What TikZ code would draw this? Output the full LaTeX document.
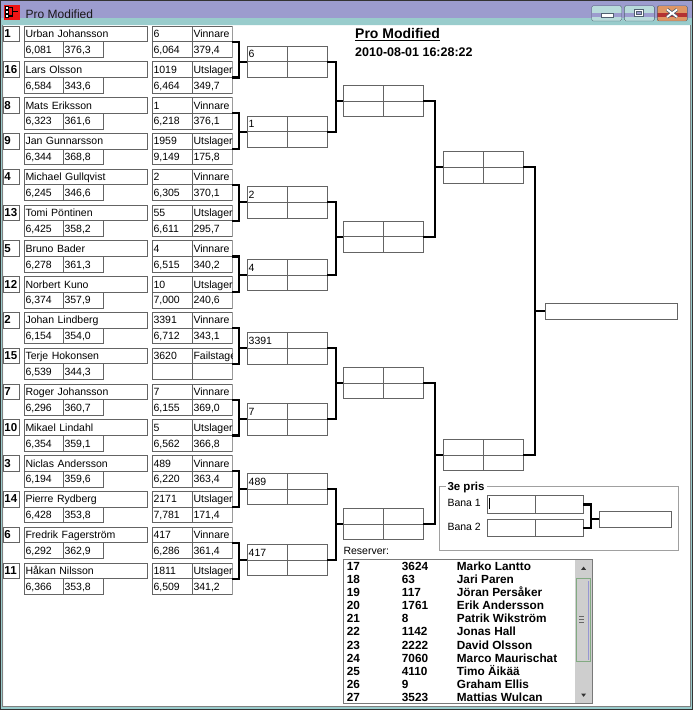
\documentclass[tikz,border=0pt]{standalone}
\usepackage{fontspec}
\setmainfont{Liberation Sans}
\usetikzlibrary{positioning}

\definecolor{boxgray}{RGB}{100,100,100}
\definecolor{titlepurple}{RGB}{156,156,206}
\definecolor{titleteal}{RGB}{153,204,204}
\definecolor{framegray}{RGB}{160,160,160}
\definecolor{sbgray}{RGB}{206,206,206}
\definecolor{thumbgreen}{RGB}{130,170,130}
\definecolor{thumbblue}{RGB}{150,150,210}
\definecolor{btnedge}{RGB}{80,96,112}
\definecolor{closeorange}{RGB}{222,150,100}
\definecolor{closered}{RGB}{180,50,50}
\definecolor{iconred}{RGB}{240,20,20}

\begin{document}
\begin{tikzpicture}[x=1pt, y=-1pt,
	cell/.style = {draw=boxgray, line width=1pt, outer sep=0pt, anchor=north west, inner xsep=1.5pt, inner ysep=0pt, minimum height=15.7pt, text width=#1, align=left, text height=8pt, text depth=0.7pt, font=\fontsize{10.5}{12}\selectfont},
	quad/.style = {draw=boxgray, line width=1pt, outer sep=0pt, inner sep=0pt, anchor=west, minimum width=80pt, minimum height=31.4pt, path picture={\draw[boxgray, line width=1pt] (path picture bounding box.north) -- (path picture bounding box.south) (path picture bounding box.west) -- (path picture bounding box.east);}},
	qtext/.style = {anchor=north west, inner xsep=1.5pt, inner ysep=0pt, minimum height=15.7pt, text height=8pt, text depth=0.7pt, font=\fontsize{10.5}{12}\selectfont},
	bracket/.style = {draw=black, line width=2.2pt},
	lbl/.style = {anchor=base west, inner sep=0pt, font=\fontsize{10.5}{12}\selectfont},
	reserve/.style = {anchor=base west, inner sep=0pt, font=\fontsize{11.8}{13}\selectfont\bfseries}]

	\useasboundingbox (0,0) rectangle (693,710);

	% window
	\fill[white] (0,0) rectangle (693,710);
	\fill[titleteal] (0,0) rectangle (3,710) (690,0) rectangle (693,710) (0,706) rectangle (693,710) (0,0) rectangle (693,25);
	\fill[titlepurple] (0,0) rectangle (693,18);
	\draw[black!80, line width=1pt] (0.5,709.5) -- (0.5,0.5) -- (692.5,0.5) -- (692.5,709.5) -- cycle;
	\draw[gray, line width=0.8pt] (2.6,25) -- (2.6,706.4) -- (690.4,706.4) -- (690.4,25);
	\fill[iconred] (4,5) rectangle (20,19.5);
	\foreach \iy in {6.5,10.5,14.5}
		\draw[black, fill=white, line width=0.8pt] (5.5,\iy) rectangle ++(3,2.6);
	\draw[black, line width=1.3pt] (9,7.5) -- (12.5,7.5) -- (12.5,16) -- (9,16) (12.5,11.8) -- (17.5,11.8);
	\node[anchor=base west, inner sep=0pt, font=\fontsize{12}{14}\selectfont, text=black!90] (wintitle) at (25.5,18) {Pro Modified};
	\foreach \bx in {591.7,624.3} {
		\fill[titleteal!70!white] (\bx,5.7) rectangle ++(30,15.3);
		\fill[titlepurple] (\bx,12.6) rectangle ++(30,4);
		\draw[btnedge, rounded corners=1.5pt] (\bx,5.7) rectangle ++(30,15.3);
	}
	\fill[closeorange] (657.3,5.7) rectangle ++(30,15.3);
	\fill[closered] (657.3,12.6) rectangle ++(30,4.4);
	\draw[btnedge, rounded corners=1.5pt] (657.3,5.7) rectangle ++(30,15.3);
	\draw[btnedge, fill=white, line width=0.9pt] (601,13.5) rectangle (613,17);
	\draw[btnedge, fill=white, line width=0.9pt] (634.5,9) rectangle (643.5,16.5);
	\draw[btnedge, fill=titlepurple, line width=0.8pt] (636.5,11.3) rectangle (641.5,14.2);
	\draw[btnedge, line width=3.4pt] (667,9.5) -- (677,17) (667,17) -- (677,9.5);
	\draw[white, line width=1.8pt] (667,9.5) -- (677,17) (667,17) -- (677,9.5);

	% header
	\node[anchor=base west, inner sep=0pt, font=\fontsize{14}{16}\selectfont\bfseries] (head) at (355,38.3) {\underline{Pro Modified}};
	\node[anchor=base west, inner sep=0pt, font=\fontsize{12.5}{14}\selectfont\bfseries] (stamp) at (355,56) {2010-08-01 16:28:22};

	% first round
	\begin{scope}
	\clip (0,0) rectangle (232.6,710);
	\foreach \i/\sd/\nm/\sa/\sb/\ca/\cb/\cc/\cd in {
		0/1/Urban Johansson/{6,081}/{376,3}/6/Vinnare/{6,064}/{379,4},
		1/16/Lars Olsson/{6,584}/{343,6}/1019/Utslager/{6,464}/{349,7},
		2/8/Mats Eriksson/{6,323}/{361,6}/1/Vinnare/{6,218}/{376,1},
		3/9/Jan Gunnarsson/{6,344}/{368,8}/1959/Utslager/{9,149}/{175,8},
		4/4/Michael Gullqvist/{6,245}/{346,6}/2/Vinnare/{6,305}/{370,1},
		5/13/Tomi Pöntinen/{6,425}/{358,2}/55/Utslager/{6,611}/{295,7},
		6/5/Bruno Bader/{6,278}/{361,3}/4/Vinnare/{6,515}/{340,2},
		7/12/Norbert Kuno/{6,374}/{357,9}/10/Utslager/{7,000}/{240,6},
		8/2/Johan Lindberg/{6,154}/{354,0}/3391/Vinnare/{6,712}/{343,1},
		9/15/Terje Hokonsen/{6,539}/{344,3}/3620/Failstage/{}/{},
		10/7/Roger Johansson/{6,296}/{360,7}/7/Vinnare/{6,155}/{369,0},
		11/10/Mikael Lindahl/{6,354}/{359,1}/5/Utslager/{6,562}/{366,8},
		12/3/Niclas Andersson/{6,194}/{359,6}/489/Vinnare/{6,220}/{363,4},
		13/14/Pierre Rydberg/{6,428}/{353,8}/2171/Utslager/{7,781}/{171,4},
		14/6/Fredrik Fagerström/{6,292}/{362,9}/417/Vinnare/{6,286}/{361,4},
		15/11/Håkan Nilsson/{6,366}/{353,8}/1811/Utslager/{6,509}/{341,2}} {
		\pgfmathsetmacro{\yy}{26+35.8*\i}
		\node[cell=13pt, font=\fontsize{11.5}{13}\selectfont\bfseries] (s\i) at (3,\yy) {\sd};
		\node[cell=120pt] (n\i) at (24,\yy) {\nm};
		\node[cell=36pt] (a\i) at (n\i.south west) {\sa};
		\node[cell=37pt] (b\i) at (a\i.north east) {\sb};
		\node[cell=37pt] (c\i) at (152,\yy) {\ca};
		\node[cell=37pt] (v\i) at (c\i.north east) {\cb};
		\node[cell=37pt] (d\i) at (c\i.south west) {\cc};
		\node[cell=37pt] (e\i) at (d\i.north east) {\cd};
	}
	\end{scope}

	% later rounds
	\foreach \k/\yy/\w in {0/61.7/6, 1/131.7/1, 2/202.3/2, 3/275/4, 4/348.3/3391, 5/419.3/7, 6/489/489, 7/560/417}
		\node[quad, label={[qtext]north west:\w}] (q\k) at (247,\yy) {};
	\foreach \k/\yy in {0/101, 1/236.7, 2/383, 3/524}
		\node[quad] (t\k) at (343.3,\yy) {};
	\foreach \k/\yy in {0/167.3, 1/455}
		\node[quad] (u\k) at (443.3,\yy) {};
	\node[draw=boxgray, line width=1pt, outer sep=0pt, anchor=west, minimum width=132.7pt, minimum height=16pt] (fin) at (545,311.3) {};

	\foreach \k in {0,...,7} {
		\pgfmathtruncatemacro{\a}{2*\k}
		\pgfmathtruncatemacro{\b}{2*\k+1}
		\draw[bracket] (v\a.south east) -- ++(7,0) |- (v\b.south east);
		\draw[bracket] (q\k.west) -- ++(-8,0);
	}
	\foreach \k in {0,...,3} {
		\pgfmathtruncatemacro{\a}{2*\k}
		\pgfmathtruncatemacro{\b}{2*\k+1}
		\draw[bracket] (q\a.east) -- ++(9,0) |- (q\b.east);
		\draw[bracket] (t\k.west) -- ++(-7.3,0);
	}
	\foreach \k in {0,1} {
		\pgfmathtruncatemacro{\a}{2*\k}
		\pgfmathtruncatemacro{\b}{2*\k+1}
		\draw[bracket] (t\a.east) -- ++(11.7,0) |- (t\b.east);
		\draw[bracket] (u\k.west) -- ++(-8.3,0);
	}
	\draw[bracket] (u0.east) -- ++(11.7,0) |- (u1.east);
	\draw[bracket] (fin.west) -- ++(-10,0);

	% 3e pris
	\draw[framegray, line width=1pt] (439.3,486) rectangle (678.3,550);
	\node[anchor=base west, fill=white, inner xsep=2pt, inner ysep=1pt, font=\fontsize{11.5}{13}\selectfont\bfseries] (third) at (445.3,490) {3e pris};
	\node[lbl] (bana1) at (447.3,506) {Bana 1};
	\node[lbl] (bana2) at (447.3,530) {Bana 2};
	\foreach \r/\yy in {1/495.7, 2/519.3} {
		\node[draw=boxgray, line width=1pt, outer sep=0pt, anchor=north west, minimum width=48pt, minimum height=17.6pt] (b\r a) at (487.3,\yy) {};
		\node[draw=boxgray, line width=1pt, outer sep=0pt, anchor=north west, minimum width=48pt, minimum height=17.6pt] (b\r b) at (b\r a.north east) {};
	}
	\node[draw=boxgray, line width=1pt, outer sep=0pt, anchor=north west, minimum width=72.4pt, minimum height=16.3pt] (bres) at (599.3,511) {};
	\draw[bracket] (b1b.east) -- ++(7.7,0) |- (b2b.east);
	\draw[bracket] (bres.west) -- ++(-8.3,0);
	\draw[black, line width=1pt] (489.8,498.3) -- (489.8,509.3);

	% reserver
	\node[lbl] (reslabel) at (343.3,554) {Reserver:};
	\fill[sbgray] (575,560) rectangle (592.6,703);
	\draw[gray!95!black, line width=1pt] (343.8,559.8) rectangle (592.8,703.3);
	\draw[thumbgreen, fill=sbgray, line width=0.9pt] (576.6,578.6) rectangle (590.4,661.6);
	\draw[thumbblue, line width=1pt] (588.3,581) -- (588.3,659.5);
	\foreach \gy in {616.8,619.5,622.2}
		\draw[black!60, line width=0.8pt] (579.2,\gy) -- (584.2,\gy);
	\fill[black!80] (581.2,569.8) -- (586,569.8) -- (583.6,566.6) -- cycle;
	\fill[black!80] (581.2,693.6) -- (586,693.6) -- (583.6,696.8) -- cycle;
	\foreach \r/\no/\id/\nm in {0/17/3624/Marko Lantto, 1/18/63/Jari Paren, 2/19/117/Jöran Persåker, 3/20/1761/Erik Andersson, 4/21/8/Patrik Wikström, 5/22/1142/Jonas Hall, 6/23/2222/David Olsson, 7/24/7060/Marco Maurischat, 8/25/4110/Timo Äikää, 9/26/9/Graham Ellis, 10/27/3523/Mattias Wulcan} {
		\pgfmathsetmacro{\yy}{570.7+13.05*\r}
		\node[reserve] (rn\r) at (346.7,\yy) {\no};
		\node[reserve] (ri\r) at (401.7,\yy) {\id};
		\node[reserve] (rp\r) at (456.7,\yy) {\nm};
	}
\end{tikzpicture}
\end{document}
